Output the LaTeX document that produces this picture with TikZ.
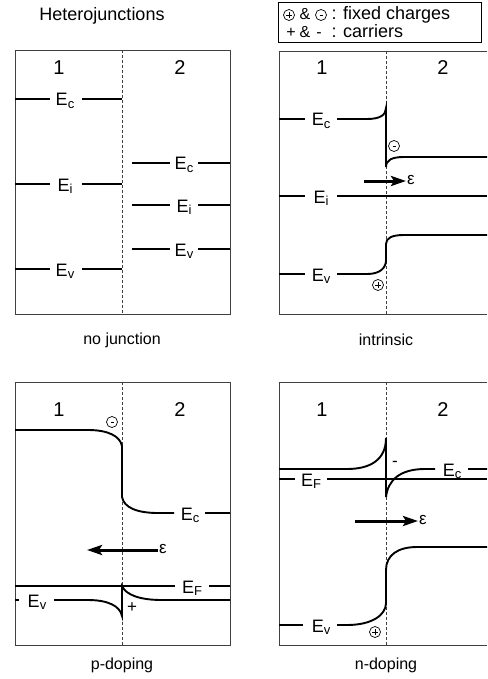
\documentclass[tikz,border=0pt]{standalone}
\usepackage{fontspec}
\setmainfont{Liberation Sans}
\usetikzlibrary{arrows.meta}
% lowered subscript for the band-edge labels
\newcommand\lowsub[1]{\raisebox{-2.2pt}{\fontsize{13}{13}\selectfont #1}}

\begin{document}
\begin{tikzpicture}[x=1pt,y=-1pt,
  frame/.style={draw=black!75, line width=0.8pt},
  junction/.style={draw=black!75, line width=0.6pt, dash pattern=on 3pt off 2pt},
  band/.style={line width=1.9pt},
  lbl/.style={font=\fontsize{18}{18}\selectfont, inner sep=0pt, anchor=base},
  side/.style={font=\fontsize{20}{20}\selectfont, inner sep=0pt},
  caption/.style={font=\fontsize{16}{16}\selectfont, inner sep=0pt},
  title/.style={font=\fontsize{18}{18}\selectfont, inner sep=0pt},
  legendtxt/.style={font=\fontsize{18}{18}\selectfont, inner sep=0pt, anchor=base},
  legendsym/.style={font=\fontsize{16}{16}\selectfont, inner sep=0pt, anchor=base},
  eps/.style={font=\fontsize{17}{17}\selectfont, inner sep=1pt},
  carrier/.style={font=\fontsize{17}{17}\selectfont, inner sep=0pt},
  field/.style={-{Stealth[length=15pt,width=10pt,inset=3pt]}, line width=3pt},
  fixpos/.style={circle, draw, line width=0.7pt, minimum size=11pt, inner sep=0pt,
    path picture={\draw[line width=0.6pt]
      ([xshift=-3pt]path picture bounding box.center) -- ([xshift=3pt]path picture bounding box.center)
      ([yshift=-3pt]path picture bounding box.center) -- ([yshift=3pt]path picture bounding box.center);}},
  fixneg/.style={circle, draw, line width=0.7pt, minimum size=11pt, inner sep=0pt,
    path picture={\draw[line width=0.8pt]
      ([xshift=-1.5pt]path picture bounding box.center) -- ([xshift=1.5pt]path picture bounding box.center);}}
]
\useasboundingbox (0,0) rectangle (487,679);

% ---------- title and legend ----------
\node[title] (title) at (102,16) {Heterojunctions};
\draw[line width=0.8pt] (278,2) rectangle (481,42);
\node[fixpos] (lgPos) at (289,15) {};
\node[legendsym] (lgAmp1) at (305,20) {\&};
\node[fixneg] (lgNeg) at (321,15) {};
\node[legendtxt] (lgCol1) at (334,20) {:};
\node[legendtxt, anchor=base west] (lgFix) at (343,20) {fixed charges};
\node[legendsym] (lgPlus) at (291,38) {+};
\node[legendsym] (lgAmp2) at (305,38) {\&};
\node[legendsym] (lgMinus) at (319,38) {-};
\node[legendtxt] (lgCol2) at (334,38) {:};
\node[legendtxt, anchor=base west] (lgCar) at (343,38) {carriers};

% ---------- panel 1: no junction ----------
\draw[frame] (15,50) rectangle (230,314);
\draw[junction] (122,50) -- (122,314);
\node[side] (a1) at (59,68) {1};
\node[side] (a2) at (180,68) {2};
\draw[band] (15,99) -- (50,99) (82,99) -- (122,99);
\node[lbl] (aEc1) at (65,106) {E\lowsub{c}};
\draw[band] (15,184) -- (50,184) (82,184) -- (122,184);
\node[lbl] (aEi1) at (65,191) {E\lowsub{i}};
\draw[band] (15,269) -- (50,269) (82,269) -- (122,269);
\node[lbl] (aEv1) at (65,276) {E\lowsub{v}};
\draw[band] (132,163) -- (170,163) (198,163) -- (230,163);
\node[lbl] (aEc2) at (184,170) {E\lowsub{c}};
\draw[band] (132,205) -- (170,205) (198,205) -- (230,205);
\node[lbl] (aEi2) at (184,212) {E\lowsub{i}};
\draw[band] (132,249) -- (170,249) (198,249) -- (230,249);
\node[lbl] (aEv2) at (184,256) {E\lowsub{v}};
\node[caption] (aCap) at (122,340) {no junction};

% ---------- panel 2: intrinsic ----------
\draw[frame] (487,51) -- (279,51) -- (279,314) -- (487,314);
\draw[junction] (386,51) -- (386,314);
\node[side] (b1) at (322,68) {1};
\node[side] (b2) at (443,68) {2};
\draw[band] (279,119) -- (305,119);
\node[lbl] (bEc) at (321,126) {E\lowsub{c}};
\draw[band] (337,119) -- (367,119) .. controls (380,119) and (386,115) .. (386,108)
  -- (386,167) .. controls (386,160) and (392,157) .. (404,157) -- (487,157);
\node[fixneg] (bNeg) at (394,146) {};
\node[eps] (bEps) at (411,180) {ε};
\coordinate (bTail) at (364,181);
\draw[field] (bTail) -- (bEps.west |- bTail);
\draw[band] (279,196) -- (305,196) (337,196) -- (487,196);
\node[lbl] (bEi) at (321,203) {E\lowsub{i}};
\draw[band] (279,274) -- (305,274);
\node[lbl] (bEv) at (321,281) {E\lowsub{v}};
\draw[band] (337,274) -- (367,274) .. controls (380,274) and (386,268) .. (386,260)
  -- (386,244) .. controls (386,238) and (392,235) .. (404,235) -- (487,235);
\node[fixpos] (bPos) at (378,285) {};
\node[caption] (bCap) at (386,340) {intrinsic};

% ---------- panel 3: p-doping ----------
\draw[frame] (15,382) rectangle (230,645);
\draw[junction] (122,382) -- (122,645);
\node[side] (c1) at (59,410) {1};
\node[side] (c2) at (180,410) {2};
\draw[band] (15,430) -- (88,430) .. controls (108,430) and (120,436) .. (122,446)
  -- (122,497) .. controls (124,508) and (138,513) .. (158,513) -- (174,513)
  (205,513) -- (230,513);
\node[lbl] (cEc) at (190,520) {E\lowsub{c}};
\node[fixneg] (cNeg) at (112,422) {};
\node[eps] (cEps) at (163,549) {ε};
\coordinate (cTip) at (87,550);
\draw[field] (cEps.west |- cTip) -- (cTip);
\draw[band] (15,586) -- (175,586) (209,586) -- (230,586);
\node[lbl] (cEf) at (192,593) {E\lowsub{F}};
\draw[band] (15,600) -- (19,600);
\node[lbl] (cEv) at (37,607) {E\lowsub{v}};
\draw[band] (54,600) -- (88,600) .. controls (108,600) and (120,606) .. (122,616)
  -- (122,586) .. controls (126,595) and (140,600) .. (162,600) -- (230,600);
\node[carrier] (cPlus) at (132,608) {+};
\node[caption] (cCap) at (122,665) {p-doping};

% ---------- panel 4: n-doping ----------
\draw[frame] (487,382) -- (279,382) -- (279,645) -- (487,645);
\draw[junction] (386,382) -- (386,645);
\node[side] (d1) at (322,410) {1};
\node[side] (d2) at (443,410) {2};
\draw[band] (279,469) -- (347,469) .. controls (370,469) and (386,460) .. (386,438)
  -- (386,497) .. controls (388,480) and (400,469) .. (425,469) -- (435,469)
  (468,469) -- (487,469);
\node[lbl] (dEc) at (452,476) {E\lowsub{c}};
\node[carrier] (dMinus) at (395,464) {-};
\draw[band] (279,479) -- (295,479) (327,479) -- (487,479);
\node[lbl] (dEf) at (311,486) {E\lowsub{F}};
\node[eps] (dEps) at (423,520) {ε};
\coordinate (dTail) at (355,521);
\draw[field] (dTail) -- (dEps.west |- dTail);
\draw[band] (279,625) -- (303,625);
\node[lbl] (dEv) at (321,632) {E\lowsub{v}};
\draw[band] (337,625) -- (347,625) .. controls (372,625) and (386,615) .. (386,603)
  -- (386,570) .. controls (386,555) and (398,547) .. (417,547) -- (487,547);
\node[fixpos] (dPos) at (375,632) {};
\node[caption] (dCap) at (386,665) {n-doping};
\end{tikzpicture}
\end{document}
